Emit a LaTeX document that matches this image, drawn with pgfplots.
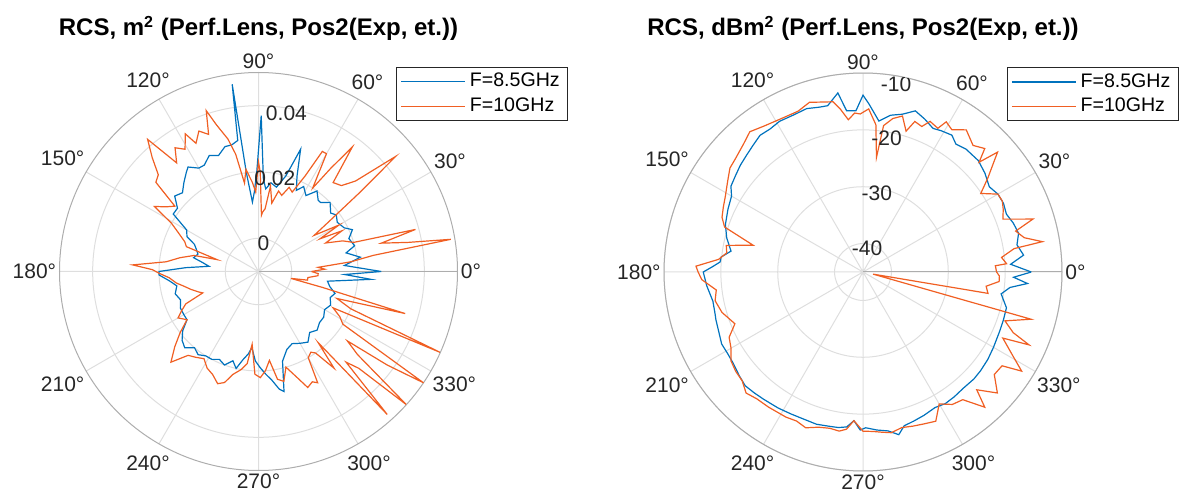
\documentclass[border=0pt]{standalone}
\usepackage{fontspec}
\setmainfont{Liberation Sans}
\usepackage{pgfplots}
\usepackage{pgfplotstable}
\pgfplotsset{compat=1.18}
\usepgfplotslibrary{polar}
\definecolor{mblue}{RGB}{0,114,189}
\definecolor{morange}{RGB}{240,95,35}
\definecolor{tickgray}{RGB}{38,38,38}

% RCS in m^2, angle in degrees
\pgfplotstableread{
t r
0 0.027
4 0.016
8 0.021
12 0.017
15 0.020
20 0.019
24 0.021
27 0.019
32 0.018
36 0.019
39 0.018
44 0.020
48 0.018
50 0.018
54 0.020
58 0.017
62 0.019
65 0.017
68 0.021
71 0.029
74 0.020
78 0.016
82 0.017
85 0.015
87 0.018
89 0.037
91 0.020
93 0.014
95 0.011
97 0.020
98 0.047
99 0.030
102 0.029
105 0.029
109 0.027
113 0.028
117 0.026
120 0.026
124 0.028
126 0.027
130 0.025
134 0.023
138 0.024
142 0.021
146 0.021
150 0.015
154 0.014
157 0.011
160 0.010
164 0.009
168 0.010
171 0.007
174 0.005
177 0.012
180 0.020
182 0.020
186 0.017
190 0.015
195 0.016
200 0.015
205 0.016
210 0.016
214 0.016
218 0.019
222 0.021
226 0.022
230 0.020
234 0.021
238 0.020
242 0.020
246 0.019
250 0.020
254 0.018
257 0.020
260 0.017
263 0.015
265 0.013
268 0.017
271 0.019
274 0.021
277 0.023
280 0.026
282 0.027
285 0.018
290 0.015
295 0.014
300 0.015
305 0.016
310 0.014
315 0.015
320 0.014
325 0.014
330 0.013
335 0.014
340 0.013
344 0.014
348 0.012
352 0.011
356 0.024
358 0.016
360 0.027
}\linblue

\pgfplotstableread{
t r
0 0.006
2 0.010
4 0.008
6 0.018
8 0.025
9.5 0.0488
11 0.036
13 0.028
15 0.039
17 0.020
20 0.017
23 0.012
26 0.018
28 0.011
30 0.018
33 0.010
35 0.015
38 0.029
40 0.044
43 0.030
46 0.026
50 0.025
53 0.037
55 0.028
57 0.020
60 0.031
62 0.031
64 0.022
67 0.016
70 0.017
73 0.014
76 0.015
79 0.011
82 0.016
84 0.009
86 0.008
87 0.007
89 0.020
90 0.023
92 0.014
94 0.017
97 0.021
99 0.017
101 0.026
103 0.031
106 0.036
108 0.041
110 0.034
113 0.036
116 0.033
118 0.037
121 0.033
124 0.035
127 0.031
130 0.042
133 0.037
136 0.032
139 0.031
142 0.022
145 0.024
148 0.027
151 0.020
154 0.017
158 0.014
161 0.013
164 0.003
166 0.010
170 0.014
174 0.018
177 0.028
179 0.022
181 0.020
184 0.017
188 0.015
191 0.013
195 0.011
199 0.009
201 0.008
204 0.014
207 0.016
210 0.018
214 0.016
218 0.020
222 0.024
226 0.028
230 0.023
234 0.022
238 0.021
242 0.023
246 0.024
250 0.026
253 0.025
256 0.022
260 0.020
263 0.018
265 0.012
268 0.021
271 0.022
274 0.020
277 0.017
280 0.023
283 0.024
286 0.020
290 0.024
293 0.028
296 0.027
298 0.028
300 0.020
303 0.019
305 0.020
308 0.027
310 0.018
312 0.048
314 0.028
316 0.032
318 0.050
320 0.029
322 0.024
324 0.038
326 0.050
328 0.020
331 0.018
334 0.015
336 0.050
338 0.020
341 0.015
344 0.036
346 0.010
348 0.000
350 0.005
353 0.005
356 0.008
358 0.008
360 0.006
}\linorange

% RCS in dBm^2
\pgfplotstableread{
t r
0 -15.4
3 -19.0
6 -16.6
10 -17.5
14 -16.8
18 -17.2
22 -17.8
26 -17.5
30 -17.6
34 -18.2
39 -17.4
44 -16.8
50 -16.8
54 -17.2
57 -16.3
61 -16.6
64 -16.9
68 -16.0
72 -15.2
76 -16.4
80 -17.0
84 -18.3
88 -15.4
90 -13.9
92.5 -16.6
95.8 -16.5
98 -13.2
102 -15.1
105 -15.0
109 -14.6
114 -14.8
119 -14.7
123 -15.0
127 -14.9
131 -15.5
135 -16.0
139 -16.4
143 -16.9
147 -17.3
150 -18.3
155 -18.8
161 -19.4
166 -20.3
171 -21.5
174 -19.9
176 -19.8
178 -18.5
180 -16.9
185 -17.4
191 -18.1
195 -18.0
198 -17.8
203 -17.5
207 -17.1
211 -17.2
215 -17.1
220 -16.6
224 -16.2
228 -16.4
232 -16.6
238 -16.8
243 -17.0
248 -17.1
253 -17.0
257 -17.2
261 -17.3
264 -17.6
266.5 -18.8
269 -17.2
271 -17.6
275 -17.1
279 -16.7
282.4 -15.7
285 -17.0
288.8 -17.3
293 -17.6
298 -18.0
302 -17.7
306 -17.8
311 -18.0
316 -17.9
320 -18.0
325 -18.2
330 -18.5
336.6 -18.8
341 -18.9
346 -19.0
351 -20.4
354 -19.0
356 -16.0
358 -18.5
360 -15.4
}\dbblue

\pgfplotstableread{
t r
0 -21.5
2.7 -21.7
3.3 -19.7
6 -20.5
8.8 -18.1
9.6 -13.0
12 -16.0
15 -17.2
17.3 -13.7
20.7 -18.7
24 -18.0
27 -17.5
30 -17.6
33.7 -20.1
37 -17.5
41.7 -13.3
43.4 -16.9
45.4 -14.5
49 -15.5
54 -14.1
58 -15.5
61 -14.8
62.5 -16.5
66 -16.0
68 -17.4
71 -17.0
73 -19.1
75.8 -16.7
79 -17.5
82 -19.0
83.3 -24.7
85 -19.0
88 -16.3
91 -17.2
93 -17.0
95.5 -18.1
98 -16.0
100 -14.6
104 -14.2
107.5 -13.7
112 -14.5
118.7 -14.4
124 -14.0
128.9 -13.3
133 -14.2
138.5 -15.0
142 -15.3
146 -16.3
151.4 -17.4
155 -17.9
158.8 -18.4
162 -19.4
166.3 -25.1
169 -20.5
172 -20.8
175 -19.5
178 -15.6
180 -16.0
182.7 -16.6
187 -19.0
191 -18.5
196 -19.2
202 -20.7
206 -18.8
210 -18.2
214 -17.0
218 -16.6
222 -16.4
226 -15.4
230 -15.9
235 -16.0
242 -16.1
246 -16.3
249.8 -15.8
254 -16.6
258 -16.9
261.5 -16.7
264 -17.2
266.5 -18.8
270 -17.0
273.5 -16.9
277 -16.6
280 -16.3
284 -16.8
288 -16.5
292 -16.2
296 -15.8
300 -18.2
304 -16.9
308 -16.5
312 -13.0
314 -16.2
318 -13.2
322 -15.7
326 -15.5
328 -12.1
331 -15.0
334.7 -17.8
336.3 -13.1
338 -16.5
341 -18.6
344.3 -14.3
348 -43.2
350.3 -22.7
353.4 -23.2
356 -21.0
358.3 -21.0
360 -21.5
}\dborange

\pgfplotsset{rcspolar/.style={
  scale only axis, width=199pt, height=199pt,
  anchor=center,
  xtick={0,30,...,330},
  xticklabels={0°,30°,60°,90°,120°,150°,180°,210°,240°,270°,300°,330°},
  xticklabel style={font=\fontsize{10.5}{12}\selectfont, text=tickgray, inner sep=1.5pt},
  scaled y ticks=false,
  yticklabel=\empty,
  major tick length=0pt,
  xmajorgrids, ymajorgrids,
  major grid style={draw=black!13, line width=0.5pt},
  axis line style={draw=black!32, line width=0.5pt},
  legend cell align=left,
  legend image code/.code={\draw[line width=0.7pt, ##1] (0pt,0pt) -- (32pt,0pt);},
  legend style={draw=tickgray, line width=0.5pt, text=black,
    font=\fontsize{9.8}{12}\selectfont, anchor=north west,
    inner xsep=2pt, inner ysep=1pt, row sep=0pt},
  every axis plot/.append style={line width=0.6pt, no markers},
}}

\begin{document}
\begin{tikzpicture}
\useasboundingbox (0,0) rectangle (591pt,-250.5pt);

\node[anchor=base, font=\bfseries\fontsize{12}{14}\selectfont] at (129.25pt,-18pt)
  {RCS, m\textsuperscript{2} (Perf.Lens, Pos2(Exp, et.))};
\node[anchor=base, font=\bfseries\fontsize{12}{14}\selectfont] at (431.5pt,-18pt)
  {RCS, dBm\textsuperscript{2} (Perf.Lens, Pos2(Exp, et.))};

\begin{polaraxis}[rcspolar, at={(129.25pt,-135.75pt)},
  ymin=0, ymax=0.06, ytick={0.01,0.03,0.05},
  legend style={at={(axis description cs:0.8455,1.0146)}}]
  \addplot[mblue] table[x=t, y expr=\thisrow{r}+0.01] {\linblue};
  \addplot[morange] table[x=t, y expr=\thisrow{r}+0.01] {\linorange};
  \legend{F=8.5GHz, F=10GHz}
  \node[font=\fontsize{10.5}{12}\selectfont, text=tickgray] at (axis cs:80,0.0085) {0};
  \node[font=\fontsize{10.5}{12}\selectfont, text=tickgray] at (axis cs:80,0.0285) {0.02};
  \node[font=\fontsize{10.5}{12}\selectfont, text=tickgray] at (axis cs:80,0.0485) {0.04};
\end{polaraxis}

\begin{polaraxis}[rcspolar, at={(431.5pt,-136pt)},
  ymin=0, ymax=35, ytick={5,15,25,35},
  legend style={at={(axis description cs:0.861,1.015)}}]
  \addplot[mblue] table[x=t, y expr=\thisrow{r}+45] {\dbblue};
  \addplot[morange] table[x=t, y expr=\thisrow{r}+45] {\dborange};
  \legend{F=8.5GHz, F=10GHz}
  \node[font=\fontsize{10.5}{12}\selectfont, text=tickgray] at (axis cs:80,4.2) {-40};
  \node[font=\fontsize{10.5}{12}\selectfont, text=tickgray] at (axis cs:80,14) {-30};
  \node[font=\fontsize{10.5}{12}\selectfont, text=tickgray] at (axis cs:80,23.8) {-20};
  \node[font=\fontsize{10.5}{12}\selectfont, text=tickgray] at (axis cs:80,33.5) {-10};
\end{polaraxis}
\end{tikzpicture}
\end{document}
